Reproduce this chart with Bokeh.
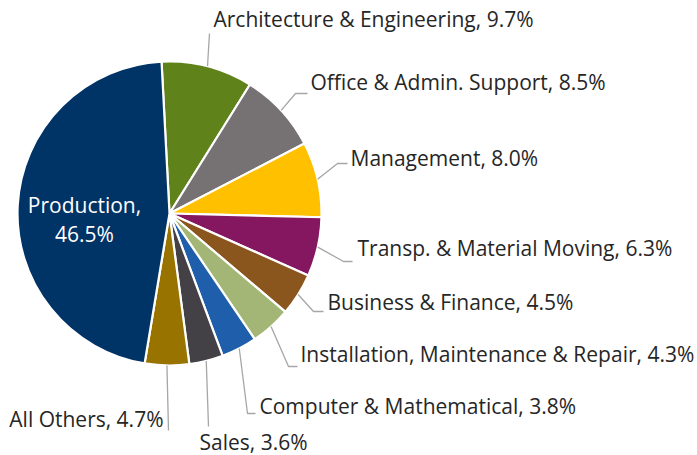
import math
from bokeh.plotting import figure
from bokeh.models import Range1d, ColumnDataSource
from bokeh.core.properties import value
from bokeh.embed import file_html
from bokeh.resources import INLINE

# ---- data ----
categories = ["Architecture & Engineering", "Office & Admin. Support", "Management",
              "Transp. & Material Moving", "Business & Finance",
              "Installation, Maintenance & Repair", "Computer & Mathematical",
              "Sales", "All Others", "Production"]
shares = [9.7, 8.5, 8.0, 6.3, 4.5, 4.3, 3.8, 3.6, 4.7, 46.5]
colors = ["#60821A", "#767173", "#FFC000", "#851660", "#8B551E",
          "#A3B676", "#1F5EAB", "#434145", "#997300", "#003366"]

# ---- layout (pixel coords of the reference) ----
CX, CY, R = 169, 213, 152
START_DEG = -3.0  # clockwise from 12 o'clock
# label anchor: (x, y_center, align), leader path after its start on the rim
label_pos = [(213, 18, "left"), (310, 81, "left"), (350, 157, "left"),
             (357, 247, "left"), (327, 301, "left"), (300, 353, "left"),
             (259, 405, "left"), (199, 441, "left"), (163, 418, "right"), None]
leader_pts = [[(209, 33)], [(295, 93), (307, 93)], [(337, 163), (347, 163)],
              [(343, 261), (352, 261)], [(313, 311), (323, 311)],
              [(288, 366), (297, 366)], [(247, 413), (255, 413)],
              [(208, 426)], [(168, 430)], None]

W, H = 697, 455
p = figure(width=W, height=H, output_backend="svg", toolbar_location=None,
           x_range=Range1d(0, W), y_range=Range1d(H, 0),
           min_border=0, outline_line_color=None)
p.axis.visible = False
p.grid.visible = False
p.background_fill_color = "white"

total = sum(shares)
cum = 0.0
starts, ends, mids = [], [], []
for s in shares:
    a0 = START_DEG + cum / total * 360.0
    cum += s
    a1 = START_DEG + cum / total * 360.0
    starts.append(a0); ends.append(a1); mids.append((a0 + a1) / 2)

def to_bokeh(a_cw):
    # clockwise-from-top degrees -> bokeh angle (counterclockwise from +x on screen)
    return math.radians(90.0 - a_cw)

src = ColumnDataSource(dict(
    start=[to_bokeh(a) for a in starts],
    end=[to_bokeh(a) for a in ends],
    color=colors))
p.wedge(x=CX, y=CY, radius=R, start_angle="start", end_angle="end",
        direction="clock", fill_color="color", line_color="white",
        line_width=2.2, source=src)

font = value("Open Sans")
for i, (cat, s) in enumerate(zip(categories, shares)):
    if label_pos[i] is None:
        continue
    a = math.radians(mids[i])
    sx, sy = CX + R * math.sin(a), CY - R * math.cos(a)
    xs = [sx] + [q[0] for q in leader_pts[i]]
    ys = [sy] + [q[1] for q in leader_pts[i]]
    p.line(xs, ys, line_color="#A6A6A6", line_width=1.3)
    lx, ly, al = label_pos[i]
    p.text(x=[lx], y=[ly], text=[f"{cat}, {s:.1f}%"], text_font=font,
           text_font_size="21px", text_color="#262626",
           text_align=al, text_baseline="middle")

# Production label inside the pie
p.text(x=[84, 84], y=[204, 233], text=[f"{categories[-1]},", f"{shares[-1]:.1f}%"],
       text_font=font, text_font_size="21px", text_color="white",
       text_align="center", text_baseline="middle")

open("out.html", "w").write(file_html(p, INLINE))
